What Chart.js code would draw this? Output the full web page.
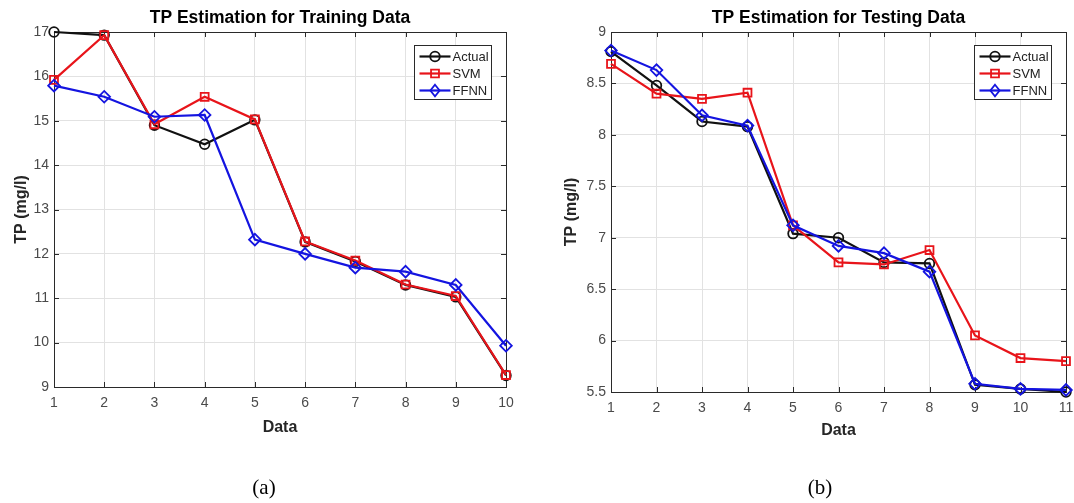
<!DOCTYPE html>
<html>
<head>
<meta charset="utf-8">
<script src="https://cdn.jsdelivr.net/npm/chart.js@4/dist/chart.umd.min.js"></script>
<style>
  html, body { margin: 0; padding: 0; background: #fff; }
  body { width: 1074px; height: 503px; position: relative; overflow: hidden; }
  canvas { position: absolute; top: 0; }
  #c1 { left: 0; }
  #c2 { left: 537px; }
</style>
</head>
<body>
<canvas id="c1" width="537" height="503"></canvas>
<canvas id="c2" width="537" height="503"></canvas>
<script>
// ---------- data ----------
const seriesNames = ['Actual', 'SVM', 'FFNN'];

const trainX = [1, 2, 3, 4, 5, 6, 7, 8, 9, 10];
const trainActual = [17.0, 16.93, 14.9, 14.47, 15.02, 12.27, 11.83, 11.30, 11.03, 9.26];
const trainSVM    = [15.92, 16.93, 14.92, 15.54, 15.03, 12.28, 11.85, 11.31, 11.05, 9.27];
const trainFFNN   = [15.79, 15.54, 15.09, 15.13, 12.32, 12.0, 11.69, 11.6, 11.3, 9.93];
const trainYTicks = [9, 10, 11, 12, 13, 14, 15, 16, 17];

const testX = [1, 2, 3, 4, 5, 6, 7, 8, 9, 10, 11];
const testActual = [8.81, 8.48, 8.13, 8.08, 7.04, 7.0, 6.76, 6.75, 5.57, 5.53, 5.50];
const testSVM    = [8.69, 8.40, 8.35, 8.41, 7.12, 6.76, 6.74, 6.88, 6.05, 5.83, 5.80];
const testFFNN   = [8.82, 8.63, 8.19, 8.09, 7.12, 6.92, 6.85, 6.67, 5.58, 5.53, 5.52];
const testYTicks = [5.5, 6, 6.5, 7, 7.5, 8, 8.5, 9];

const titles = ['TP Estimation for Training Data', 'TP Estimation for Testing Data'];
const captions = ['(a)', '(b)'];
const yTitle = 'TP (mg/l)';
const xTitle = 'Data';

// ---------- styles ----------
const SANS = '"Liberation Sans", Arial, Helvetica, sans-serif';
const colors = ['#111111', '#e8141a', '#1414e0'];
const shapes = ['circle', 'rect', 'rectRot'];
const radii = [4.8, 5.6, 5.8];

function makeDatasets(xs, arrays) {
  return arrays.map((vals, i) => ({
    label: seriesNames[i],
    data: xs.map((x, k) => ({ x: x, y: vals[k] })),
    borderColor: colors[i],
    backgroundColor: 'rgba(0,0,0,0)',
    borderWidth: 2.2,
    pointStyle: shapes[i],
    pointRadius: radii[i],
    pointBorderWidth: 1.8,
    pointBackgroundColor: 'rgba(0,0,0,0)',
    pointBorderColor: colors[i],
    tension: 0,
    clip: false,
    order: 3 - i
  }));
}

function drawMarker(ctx, shape, x, y, r) {
  ctx.beginPath();
  if (shape === 'circle') {
    ctx.arc(x, y, r, 0, Math.PI * 2);
  } else if (shape === 'rect') {
    const s = r * Math.SQRT1_2;
    ctx.rect(x - s, y - s, 2 * s, 2 * s);
  } else {
    ctx.moveTo(x, y - r); ctx.lineTo(x + r * 0.8, y); ctx.lineTo(x, y + r); ctx.lineTo(x - r * 0.8, y); ctx.closePath();
  }
  ctx.stroke();
}

const decor = {
  id: 'decor',
  beforeDatasetsDraw(chart) {
    const { ctx, chartArea: ca, scales } = chart;
    ctx.save();
    ctx.strokeStyle = '#2a2a2a';
    ctx.lineWidth = 1;
    ctx.strokeRect(Math.round(ca.left) + 0.5, Math.round(ca.top) + 0.5, Math.round(ca.right) - Math.round(ca.left), Math.round(ca.bottom) - Math.round(ca.top));
    const tl = 5;
    ctx.beginPath();
    scales.x.ticks.forEach(t => {
      const px = Math.round(scales.x.getPixelForValue(t.value)) + 0.5;
      ctx.moveTo(px, ca.bottom); ctx.lineTo(px, ca.bottom - tl);
      ctx.moveTo(px, ca.top); ctx.lineTo(px, ca.top + tl);
    });
    scales.y.ticks.forEach(t => {
      const py = Math.round(scales.y.getPixelForValue(t.value)) + 0.5;
      ctx.moveTo(ca.left, py); ctx.lineTo(ca.left + tl, py);
      ctx.moveTo(ca.right, py); ctx.lineTo(ca.right - tl, py);
    });
    ctx.stroke();
    ctx.restore();
  },
  afterDraw(chart, args, o) {
    const { ctx, chartArea: ca } = chart;
    ctx.save();
    // title
    ctx.fillStyle = '#000';
    ctx.font = 'bold 17.5px ' + SANS;
    ctx.textAlign = 'center';
    ctx.textBaseline = 'middle';
    ctx.fillText(o.title, (ca.left + ca.right) / 2, 18);
    // caption
    ctx.font = '21px "Liberation Serif", "Times New Roman", serif';
    ctx.fillText(o.caption, o.captionX, 488);
    // legend
    const w = 77, h = 54;
    const bx = Math.round(ca.right - 15 - w) + 0.5, by = Math.round(ca.top + 13) + 0.5;
    ctx.fillStyle = '#fff';
    ctx.fillRect(bx, by, w, h);
    ctx.strokeStyle = '#2a2a2a';
    ctx.lineWidth = 1;
    ctx.strokeRect(bx, by, w, h);
    chart.data.datasets.forEach((ds, i) => {
      const cy = by + 11 + i * 17;
      ctx.strokeStyle = ds.borderColor;
      ctx.lineWidth = 2.2;
      ctx.beginPath();
      ctx.moveTo(bx + 5, cy); ctx.lineTo(bx + 36, cy);
      ctx.stroke();
      ctx.lineWidth = 1.8;
      drawMarker(ctx, ds.pointStyle, bx + 20.5, cy, ds.pointRadius);
      ctx.fillStyle = '#222';
      ctx.font = '13px ' + SANS;
      ctx.textAlign = 'left';
      ctx.textBaseline = 'middle';
      ctx.fillText(ds.label, bx + 38, cy + 1);
    });
    ctx.restore();
  }
};

function makeChart(id, xs, arrays, yTicks, cfg) {
  return new Chart(document.getElementById(id), {
    type: 'line',
    data: { datasets: makeDatasets(xs, arrays) },
    plugins: [decor],
    options: {
      responsive: false,
      animation: false,
      devicePixelRatio: 1,
      layout: { padding: { left: 0, top: 32, right: cfg.padRight, bottom: 0 } },
      plugins: {
        legend: { display: false },
        tooltip: { enabled: false },
        decor: { title: cfg.title, caption: cfg.caption, captionX: cfg.captionX }
      },
      scales: {
        x: {
          type: 'linear',
          min: xs[0],
          max: xs[xs.length - 1],
          afterBuildTicks: s => { s.ticks = xs.map(v => ({ value: v })); },
          afterFit: s => { s.height = cfg.xHeight; s.paddingLeft = 0; s.paddingRight = 0; },
          grid: { color: '#e2e2e2', drawTicks: false, lineWidth: 1 },
          border: { display: false },
          ticks: { padding: 8, color: '#4a4a4a', font: { family: SANS, size: 14 }, maxRotation: 0, autoSkip: false, callback: v => String(v) },
          title: { display: true, text: xTitle, color: '#262626', font: { family: SANS, size: 16, weight: 'bold' }, padding: { top: 0, bottom: cfg.xTitlePad } }
        },
        y: {
          type: 'linear',
          min: yTicks[0],
          max: yTicks[yTicks.length - 1],
          afterBuildTicks: s => { s.ticks = yTicks.map(v => ({ value: v })); },
          afterFit: s => { s.width = cfg.yWidth; s.paddingTop = 0; s.paddingBottom = 0; },
          grid: { color: '#e2e2e2', drawTicks: false, lineWidth: 1 },
          border: { display: false },
          ticks: { padding: 5, color: '#4a4a4a', font: { family: SANS, size: 14 }, autoSkip: false, callback: v => String(v) },
          title: { display: true, text: yTitle, color: '#262626', font: { family: SANS, size: 16, weight: 'bold' }, padding: { top: cfg.yTitlePad, bottom: 0 } }
        }
      }
    }
  });
}

makeChart('c1', trainX, [trainActual, trainSVM, trainFFNN], trainYTicks,
  { padRight: 31, yWidth: 54, xHeight: 116, xTitlePad: 66, yTitlePad: 12, title: titles[0], caption: captions[0], captionX: 264 });
makeChart('c2', testX, [testActual, testSVM, testFFNN], testYTicks,
  { padRight: 8, yWidth: 74, xHeight: 111, xTitlePad: 63, yTitlePad: 25, title: titles[1], caption: captions[1], captionX: 283 });
</script>
</body>
</html>
